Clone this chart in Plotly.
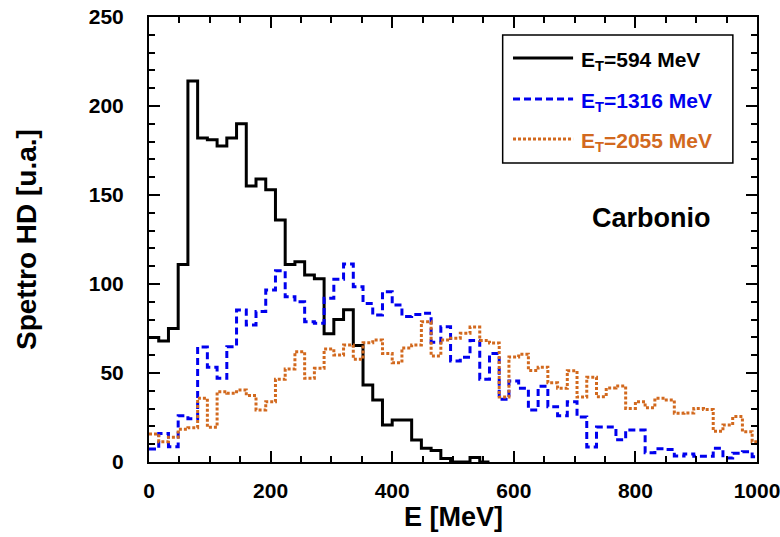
import plotly.graph_objects as go

# ---- data (bins of 16 MeV starting at 0) ----
bin_width = 16
e_max = 1000

black_vals = [70, 68, 75, 111, 214, 182, 181, 177.5, 182, 190,
              155, 159, 153, 136, 111, 112.5, 105, 103, 72, 80,
              85.5, 65.5, 43.3, 34.8, 20.8, 23.6, 23.6, 12.4, 7.7, 6.4,
              2, 0, 0, 2.5, 0]

blue_vals = [7.3, 16, 8.6, 26, 24.3, 64.6, 53.2, 47, 64.8, 85.4,
             77, 84.5, 96.6, 107.5, 92.9, 90, 78.8, 78, 92, 102.6,
             111.2, 98.5, 89.1, 82.6, 95.7, 88.2, 81.8, 82.8, 83.5, 67.3,
             76, 56.8, 58.8, 68.3, 46.5, 61, 35.2, 45.5, 41.4, 29.2,
             42.5, 31.1, 26, 33.9, 25.3, 8.4, 19.6, 19.6, 12.5, 18,
             18, 5.2, 7.5, 7, 3.4, 4.5, 3.2, 3.2, 7.7, 2.3,
             4.9, 5.8, 3]

orange_vals = [15.7, 11.4, 13.9, 18.4, 19.3, 35.8, 19.5, 39.5, 38.6, 40.4,
               37.3, 29.2, 33.9, 46.5, 52.2, 62, 47, 52.6, 63.5, 60.1,
               65.7, 57.7, 67, 68.5, 61, 55.8, 64.1, 65.7, 78.8, 59.6,
               68.5, 69.5, 72.3, 75.8, 68.3, 66.8, 36.5, 59, 60.5, 51.4,
               53.3, 44.5, 41.4, 51.2, 36.5, 47.6, 36.7, 41.6, 42.7, 30.1,
               33.9, 30.5, 35.8, 34.8, 27.4, 27.5, 30.1, 29.5, 17.3, 20.8,
               25.5, 17, 11.4]

series_names = ["=594 MeV", "=1316 MeV", "=2055 MeV"]
series_colors = ["#000000", "#0000ee", "#d2691e"]
series_dash = ["solid", "7px,4px", "3px,2px"]

x_ticks = [0, 200, 400, 600, 800, 1000]
y_ticks = [0, 50, 100, 150, 200, 250]


def steps(vals):
    edges = [i * bin_width for i in range(len(vals))]
    x = edges + [min(len(vals) * bin_width, e_max)]
    y = list(vals) + [vals[-1]]
    return x, y


fig = go.Figure()
for vals, name, col, dash in zip([black_vals, blue_vals, orange_vals],
                                 series_names, series_colors, series_dash):
    x, y = steps(vals)
    fig.add_trace(go.Scatter(x=x, y=y, mode="lines", name=name,
                             line=dict(shape="hv", color=col, width=3, dash=dash),
                             showlegend=False))

font_fam = "Liberation Sans, Arial, Helvetica, sans-serif"

axis_common = dict(showline=True, linecolor="black", linewidth=2, mirror="ticks",
                   ticks="inside", ticklen=11, tickwidth=1.5, tickcolor="black",
                   showgrid=False, zeroline=False, ticklabeloverflow="allow",
                   automargin=False,
                   tickfont=dict(family=font_fam, size=21, color="black", weight="bold"))

fig.update_xaxes(range=[0, e_max], tickvals=x_ticks, ticklabelstandoff=9,
                 minor=dict(dtick=50, ticklen=6, tickwidth=1.5, ticks="inside",
                            tickcolor="black", showgrid=False),
                 **axis_common)
fig.update_yaxes(range=[0, 250], tickvals=y_ticks, ticklabelstandoff=19,
                 minor=dict(dtick=10, ticklen=6, tickwidth=1.5, ticks="inside",
                            tickcolor="black", showgrid=False),
                 **axis_common)

# legend box drawn manually
leg_x0, leg_x1, leg_y0, leg_y1 = 581.7, 960.3, 168, 239.9
fig.add_shape(type="rect", xref="x", yref="y", x0=leg_x0, x1=leg_x1, y0=leg_y0, y1=leg_y1,
              line=dict(color="black", width=1.5), fillcolor="white")
leg_rows = [227, 203.9, 181.5]
for yy, name, col, dash in zip(leg_rows, series_names, series_colors, series_dash):
    fig.add_shape(type="line", xref="x", yref="y", x0=598.7, x1=697.5, y0=yy, y1=yy,
                  line=dict(color=col, width=3, dash=dash))
    fig.add_annotation(xref="x", yref="y", x=708, y=yy - 1.5, xanchor="left", yanchor="middle",
                       text="E<sub>T</sub>" + name, showarrow=False,
                       font=dict(family=font_fam, size=21, color=col, weight="bold"))

fig.add_annotation(xref="x", yref="y", x=826, y=137, text="Carbonio", showarrow=False,
                   font=dict(family=font_fam, size=27, color="black", weight="bold"))

fig.add_annotation(xref="paper", yref="paper", x=-0.2015, y=0.5, text="Spettro HD [u.a.]",
                   textangle=-90, showarrow=False, xanchor="center", yanchor="middle",
                   font=dict(family=font_fam, size=28, color="black", weight="bold"))
fig.add_annotation(xref="paper", yref="paper", x=0.5, y=-0.1236, text="E [MeV]",
                   showarrow=False, xanchor="center", yanchor="middle",
                   font=dict(family=font_fam, size=27, color="black", weight="bold"))

fig.update_layout(width=780, height=537, margin=dict(l=149, r=23, t=17, b=75, autoexpand=False),
                  plot_bgcolor="white", paper_bgcolor="white", showlegend=False)

fig.write_html("out.html")
